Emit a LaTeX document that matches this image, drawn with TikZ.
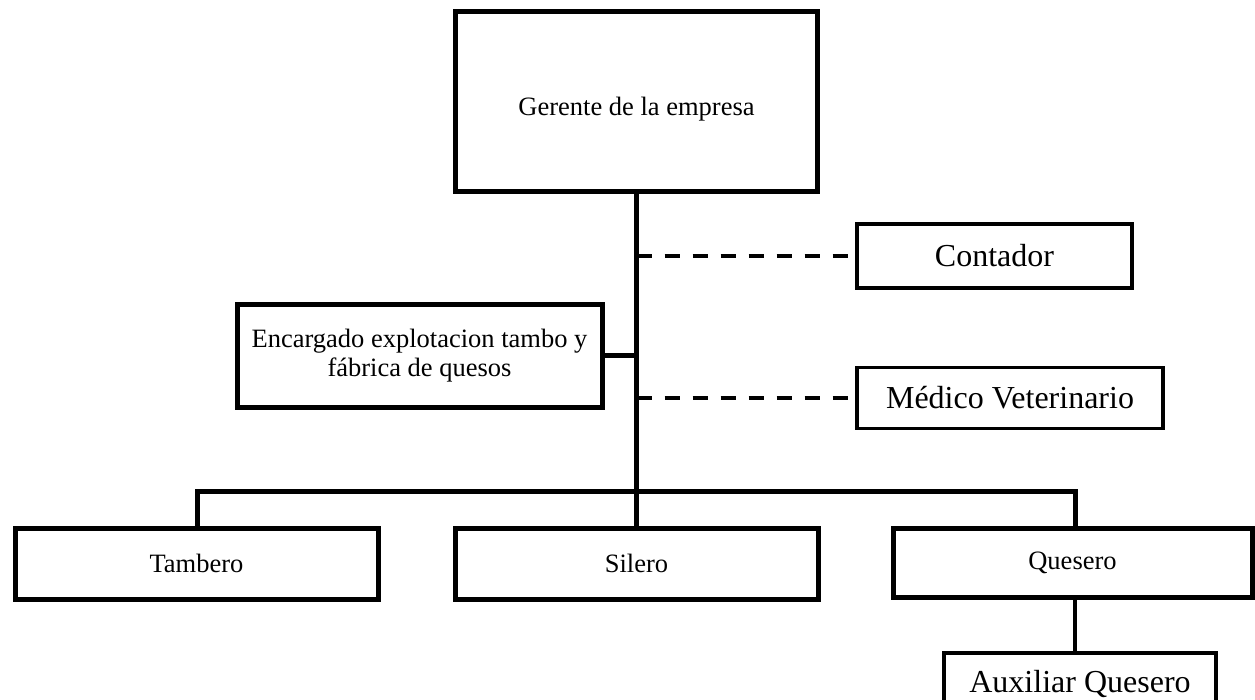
\documentclass[tikz,border=0pt]{standalone}
\usepackage{fontspec}
\setmainfont{Liberation Serif}
\begin{document}
\begin{tikzpicture}[x=1pt,y=-1pt,
  box/.style={draw, line width=5pt, rectangle, inner sep=0pt, align=center,
    font=\fontsize{26.5}{29}\selectfont},
  lightbox/.style={draw, line width=3.5pt, rectangle, inner sep=0pt, align=center,
    font=\fontsize{32}{37}\selectfont},
  link/.style={line width=5pt},
  lightlink/.style={line width=3.5pt},
  advisory/.style={line width=4pt, dash pattern=on 15pt off 13pt}]
\useasboundingbox (0,0) rectangle (1255,700);
\clip (0,0) rectangle (1255,700);

% positions
\node[box, minimum width=362pt, minimum height=180pt] (gerente) at (636.5,102) {\raisebox{-14pt}[0pt][0pt]{Gerente de la empresa}};
\node[lightbox, minimum width=275pt, minimum height=64pt] (contador) at (994.5,256) {Contador};
\node[lightbox, minimum width=306pt, minimum height=61pt] (medico) at (1010,398) {Médico Veterinario};
\node[box, minimum width=365pt, minimum height=102pt] (encargado) at (419.5,356) {Encargado explotacion tambo y\\fábrica de quesos};
\node[box, minimum width=363pt, minimum height=71pt] (tambero) at (196.5,563.5) {Tambero};
\node[box, minimum width=363pt, minimum height=71pt] (silero) at (636.5,563.5) {Silero};
\node[box, minimum width=359pt, minimum height=69pt] (quesero) at (1072.5,562.5) {Quesero};
\node[lightbox, minimum width=272pt, minimum height=62pt] (auxiliar) at (1080,684) {Auxiliar Quesero};

% branch bar
\coordinate (barL) at (197,491);
\coordinate (barR) at (1075,491);

% trunk and branches
\draw[link] (gerente.south) -- (silero.north);
\draw[link] (tambero.north -| barL) -- (barL) -- (barR) -- (quesero.north -| barR);
\draw[link] (encargado.east) -- (encargado.east -| gerente.south);
\draw[lightlink] (quesero.south -| barR) -- (auxiliar.north -| barR);

% advisory (staff) links
\draw[advisory] (contador.west -| gerente.south) -- (contador.west);
\draw[advisory] (medico.west -| gerente.south) -- (medico.west);
\end{tikzpicture}
\end{document}
